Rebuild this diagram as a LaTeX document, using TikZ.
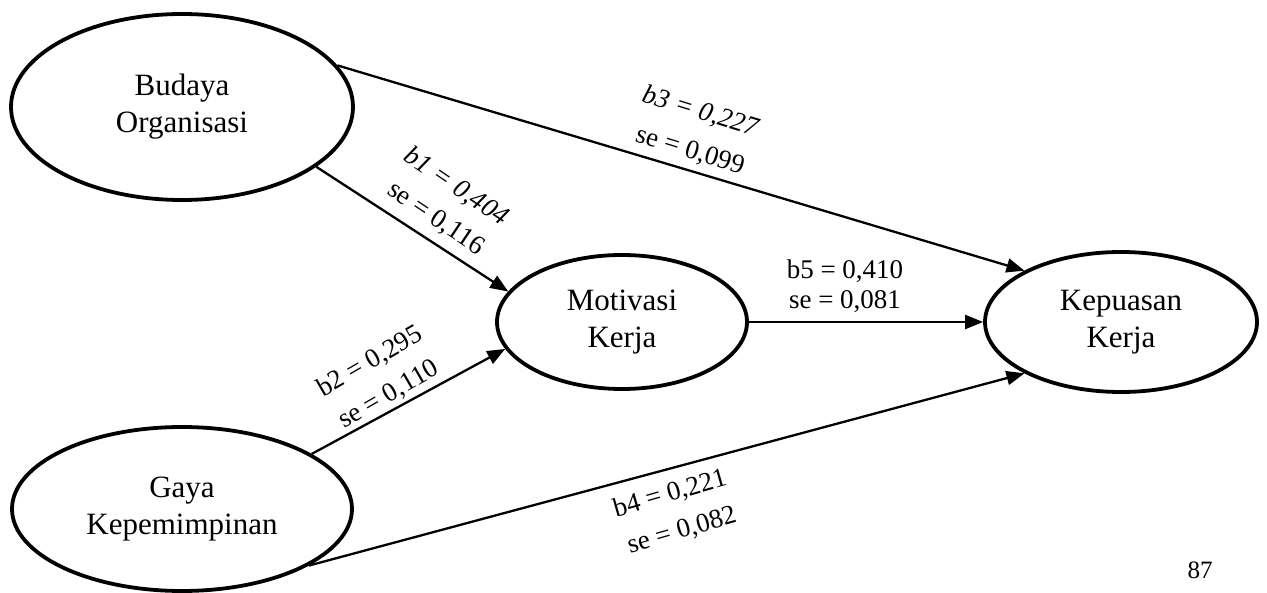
\documentclass[tikz,border=0pt]{standalone}
\usepackage{fontspec}
\setmainfont{Liberation Serif}
\usetikzlibrary{shapes.geometric,arrows.meta}
\begin{document}
\begin{tikzpicture}[x=1pt,y=-1pt,
  var/.style={ellipse,draw,line width=3.8pt,inner sep=0pt,align=center,font=\fontsize{31}{37}\selectfont},
  conn/.style={line width=2.3pt,-{Triangle[length=18pt,width=14pt]}},
  lab/.style={inner sep=0pt,font=\fontsize{27}{33}\selectfont},
  labi/.style={inner sep=0pt,font=\fontsize{27}{33}\selectfont\itshape}]
\useasboundingbox (0,0) rectangle (1267,593);
\node[var,minimum width=342pt,minimum height=186pt] (bud) at (182,107) {Budaya\\Organisasi};
\node[var,minimum width=340pt,minimum height=164pt] (gaya) at (182,509) {Gaya\\Kepemimpinan};
\node[var,minimum width=250pt,minimum height=134pt] (mot) at (622,322) {Motivasi\\Kerja};
\node[var,minimum width=272pt,minimum height=140pt] (kep) at (1121,322) {Kepuasan\\Kerja};
\draw[conn] (bud.15) -- (kep.152);
\draw[conn] (bud.-24) -- (mot.165);
\draw[conn] (gaya.23) -- (mot.193);
\draw[conn] (mot.east) -- (kep.west);
\draw[conn] (gaya.-24) -- (kep.208);
\node[labi,rotate=-17] (l3a) at (700,112) {b3 = 0,227};
\node[lab,rotate=-17] (l3b) at (690,151) {se = 0,099};
\node[labi,rotate=-34] (l1a) at (456,187) {b1 = 0,404};
\node[lab,rotate=-34] (l1b) at (436,219) {se = 0,116};
\node[lab,rotate=30] (l2a) at (370,362) {b2 = 0,295};
\node[lab,rotate=30] (l2b) at (389,395) {se = 0,110};
\node[lab,rotate=16] (l4a) at (670,494) {b4 = 0,221};
\node[lab,rotate=16] (l4b) at (682,531) {se = 0,082};
\node[lab] (l5a) at (845,271) {b5 = 0,410};
\node[lab] (l5b) at (845,302) {se = 0,081};
\node[lab,font=\fontsize{25}{30}\selectfont] (pg) at (1200,570) {87};
\end{tikzpicture}
\end{document}
